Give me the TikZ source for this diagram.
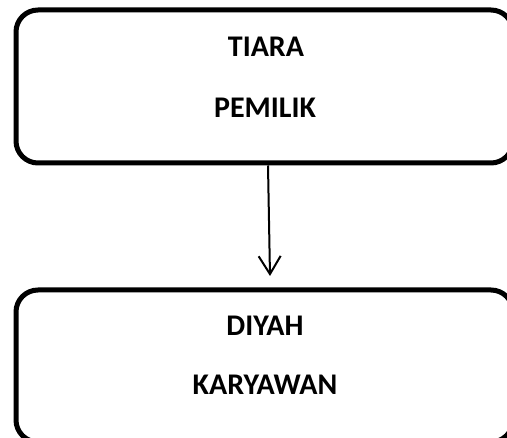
\documentclass[tikz,border=0pt]{standalone}
\usepackage{fontspec}
\setmainfont{Carlito}
\usetikzlibrary{arrows.meta}
\tikzset{
  box/.style={draw=black, line width=5pt, rounded corners=22pt, minimum width=497pt, inner sep=0pt},
  lbl/.style={anchor=base, inner sep=0pt, font=\fontsize{30}{36}\selectfont\bfseries},
  arr/.style={line width=2pt, -{Straight Barb[length=18pt,width=22pt,line width=2pt]}}
}
\begin{document}
\begin{tikzpicture}[x=1pt,y=-1pt]
\useasboundingbox (0,0) rectangle (507,438);
\clip (0,0) rectangle (507,438);
\fill[white] (0,0) rectangle (507,438);
\node[box, minimum height=153pt] (top) at (264.5,86.5) {};
\node[box, minimum height=152pt] (bot) at (264.5,366) {};
\node[lbl] (t1) at (266,57) {TIARA};
\node[lbl] (t2) at (265,118) {PEMILIK};
\node[lbl] (b1) at (265,336) {DIYAH};
\node[lbl] (b2) at (265,395) {KARYAWAN};
\coordinate (tip) at (270,276);
\draw[arr] ([xshift=3.5pt]top.south) -- (tip);
\end{tikzpicture}
\end{document}
